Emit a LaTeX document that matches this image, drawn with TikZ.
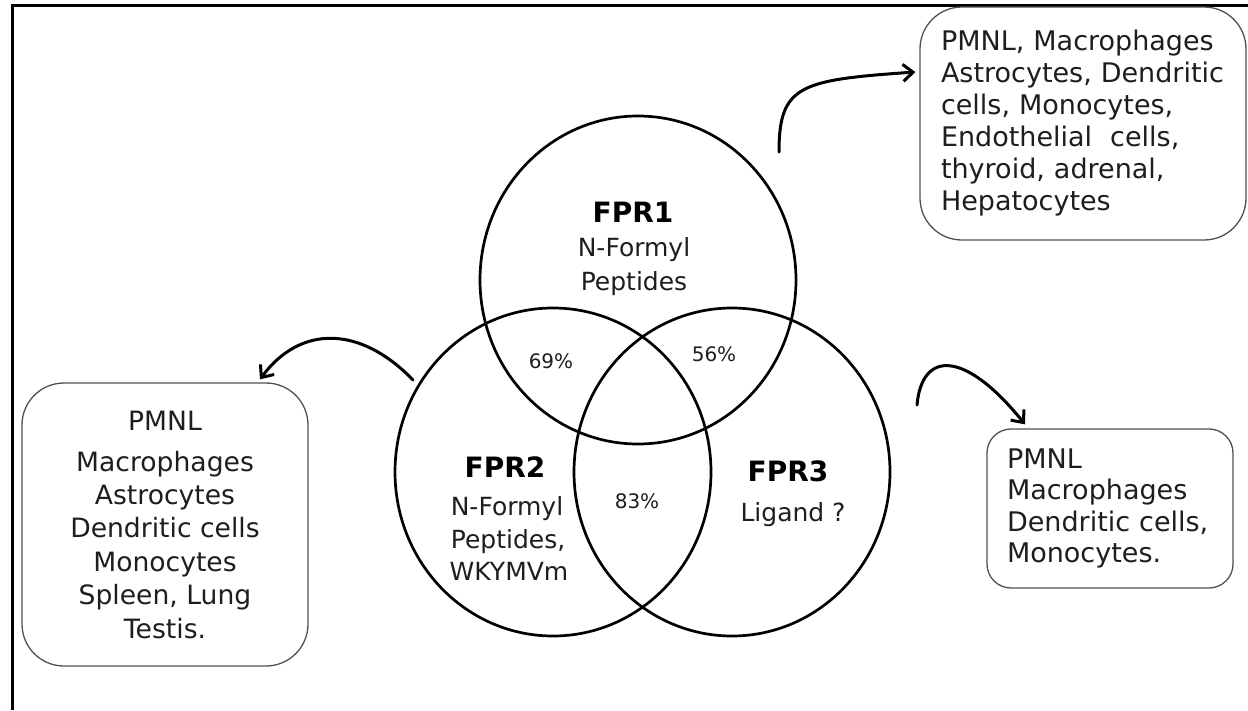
\documentclass[tikz,border=0pt]{standalone}
\usepackage{fontspec}
\setmainfont{DejaVu Sans}
\usetikzlibrary{arrows.meta,shapes.geometric}
\definecolor{ink}{HTML}{1E1E1E}
\definecolor{boxline}{HTML}{505050}
\begin{document}
\begin{tikzpicture}[x=1pt,y=-1pt,
  ring/.style={draw=black, line width=2.7pt, ellipse, minimum width=316pt, minimum height=328pt, inner sep=0pt},
  lbl/.style={anchor=base, text=ink, font=\fontsize{25}{30}\selectfont, inner sep=0pt},
  ttl/.style={anchor=base, text=black, font=\fontsize{28}{32}\selectfont\bfseries, inner sep=0pt},
  pct/.style={anchor=base, text=ink, font=\fontsize{20}{24}\selectfont, inner sep=0pt},
  infobox/.style={draw=boxline, line width=1.3pt, text=ink, font=\fontsize{27}{32}\selectfont, inner sep=0pt},
  link/.style={line width=3pt, line cap=round, -{Straight Barb[length=10pt,width=17pt,line width=3pt]}}
]
\useasboundingbox (0,0) rectangle (1248,710);
\fill[white] (0,0) rectangle (1248,710);
\draw[line width=3pt] (12.5,710) -- (12.5,5.8) -- (1248,5.8);

% circles
\node[ring] (c1) at (638,280) {};
\node[ring] (c2) at (553,472) {};
\node[ring] (c3) at (732,472) {};

% circle texts
\node[ttl] (t1) at (633,222) {FPR1};
\node[lbl] (t1a) at (634,256) {N-Formyl};
\node[lbl] (t1b) at (634,290) {Peptides};

\node[ttl] (t2) at (505,477) {FPR2};
\node[lbl] (t2a) at (507,515) {N-Formyl};
\node[lbl] (t2b) at (508,548) {Peptides,};
\node[lbl] (t2c) at (509,580) {WKYMVm};

\node[ttl] (t3) at (788,481) {FPR3};
\node[lbl] (t3a) at (793,521) {Ligand ?};

\node[pct] (p12) at (551,368) {69\%};
\node[pct] (p13) at (714,361) {56\%};
\node[pct] (p23) at (637,508) {83\%};

% boxes
\node[infobox, rounded corners=42pt, minimum width=326pt, minimum height=233pt,
      text width=284pt, align=left] (b1) at (1083,123.5)
  {PMNL, Macrophages\\ Astrocytes, Dendritic\\ cells, Monocytes,\\ Endothelial\hspace{18pt}cells,\\ thyroid, adrenal,\\ Hepatocytes};

\node[infobox, rounded corners=42pt, minimum width=286pt, minimum height=283pt,
      align=center, font=\fontsize{26.6}{33.4}\selectfont] (b2) at (165,524.5)
  {PMNL\\[7.6pt] Macrophages\\ Astrocytes\\ Dendritic cells\\ Monocytes\\ Spleen, Lung\\ Testis.};

\node[infobox, rounded corners=24pt, minimum width=246pt, minimum height=159pt,
      text width=206pt, align=left, font=\fontsize{27}{31.6}\selectfont] (b3) at (1110,508.5)
  {PMNL\\ Macrophages\\ Dendritic cells,\\ Monocytes.};

% connectors
\coordinate (s1) at (779,152);
\coordinate (s2) at (413,380);
\coordinate (s3) at (917,405);
\draw[link] (s1) .. controls (779,85) and (800,80) .. ([xshift=-4pt,yshift=51.5pt]b1.west);
\draw[link] (s2) .. controls (360,325) and (300,325) .. ([xshift=95pt,yshift=3pt]b2.north);
\draw[link] (s3) .. controls (922,350) and (965,350) .. ([xshift=-85pt,yshift=4pt]b3.north);
\end{tikzpicture}
\end{document}
